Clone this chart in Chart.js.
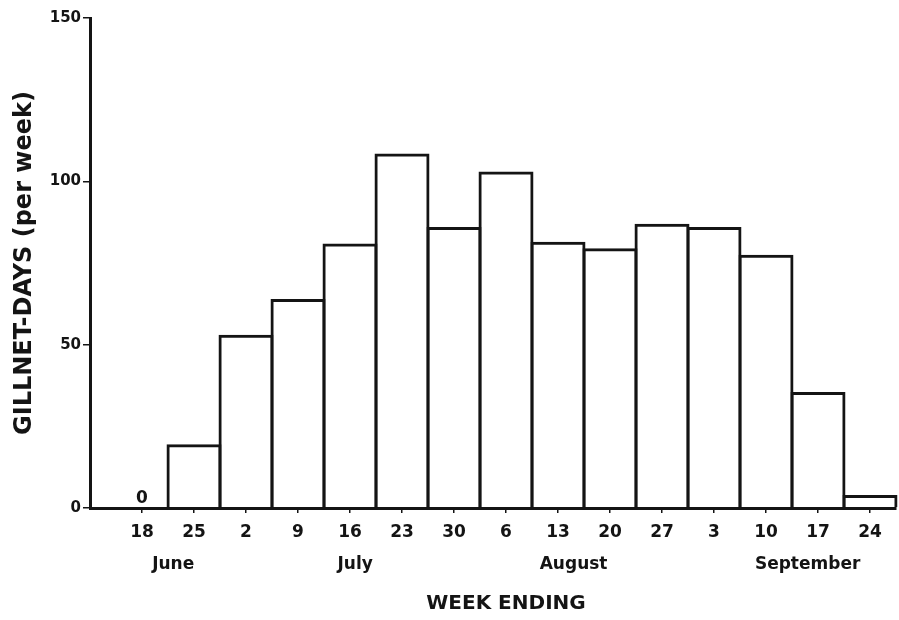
<!DOCTYPE html>
<html>
<head>
<meta charset="utf-8">
<title>Gillnet-days per week</title>
<script src="https://cdn.jsdelivr.net/npm/chart.js@4.4.1/dist/chart.umd.min.js"></script>
<style>
  html, body { margin: 0; padding: 0; background: #ffffff; }
  #wrap { width: 899px; height: 620px; }
</style>
</head>
<body>
<div id="wrap"><canvas id="chart" width="899" height="620"></canvas></div>
<script>
// Week-ending dates (day of month), June through September
const weekLabels = ['18', '25', '2', '9', '16', '23', '30', '6', '13', '20', '27', '3', '10', '17', '24'];
// Gillnet-days fished in each week
const gillnetDays = [0, 19.5, 53, 64, 81, 108.5, 86, 103, 81.5, 79.5, 87, 86, 77.5, 35.5, 4];
// Value-axis tick marks
const yTickValues = [0, 50, 100, 150];
// Month names and where they sit along the week axis (in week positions)
const months = ['June', 'July', 'August', 'September'];
const monthCentres = [0.6, 4.1, 8.3, 12.8];

const INK = '#141414';
const FAMILY = '"DejaVu Sans", "Liberation Sans", sans-serif';

// Month names, the x-axis caption and labels over empty weeks
const weekAnnotations = {
  id: 'weekAnnotations',
  afterDraw(chart) {
    const { ctx } = chart;
    const x = chart.scales.x;
    const y = chart.scales.y;
    ctx.save();
    ctx.fillStyle = INK;
    ctx.textAlign = 'center';
    ctx.textBaseline = 'alphabetic';

    ctx.font = 'bold 17px ' + FAMILY;
    months.forEach((m, i) => {
      ctx.fillText(m, x.getPixelForValue(monthCentres[i]), x.top + 61);
    });

    gillnetDays.forEach((v, i) => {
      if (v === 0) {
        ctx.fillText(String(v), x.getPixelForValue(i), y.getPixelForValue(v) - 5);
      }
    });

    ctx.font = 'bold 20px ' + FAMILY;
    const mid = (x.getPixelForValue(0) + x.getPixelForValue(weekLabels.length - 1)) / 2;
    ctx.fillText('WEEK ENDING', mid, x.top + 101);
    ctx.restore();
  }
};

new Chart(document.getElementById('chart'), {
  type: 'bar',
  data: {
    datasets: [{
      data: gillnetDays.map((v, i) => ({ x: i, y: v })),
      backgroundColor: 'rgba(255,255,255,0)',
      borderColor: INK,
      borderWidth: 3,
      borderSkipped: 'start',
      barPercentage: 55 / 52,
      categoryPercentage: 1,
      clip: false
    }]
  },
  options: {
    responsive: false,
    animation: false,
    layout: { padding: { left: 0, right: 3, top: 18, bottom: 0 } },
    plugins: {
      legend: { display: false },
      tooltip: { enabled: false }
    },
    scales: {
      x: {
        type: 'linear',
        min: -1,
        max: 14.5,
        offset: false,
        afterBuildTicks: (scale) => {
          scale.ticks = weekLabels.map((_, i) => ({ value: i }));
        },
        afterFit: (scale) => { scale.height = 112; },
        grid: {
          display: true,
          drawOnChartArea: false,
          drawTicks: true,
          tickLength: 5,
          color: INK,
          lineWidth: 1.5,
          offset: false
        },
        border: { display: true, color: INK, width: 3 },
        ticks: {
          autoSkip: false,
          maxRotation: 0,
          padding: 9,
          color: INK,
          font: { family: FAMILY, size: 17, weight: 'bold' },
          callback: (value) => weekLabels[value] ?? ''
        }
      },
      y: {
        min: 0,
        max: 150,
        afterBuildTicks: (scale) => {
          scale.ticks = yTickValues.map(v => ({ value: v }));
        },
        afterFit: (scale) => { scale.width = 90; },
        grid: {
          display: true,
          drawOnChartArea: false,
          drawTicks: true,
          tickLength: 7,
          color: INK,
          lineWidth: 1.5
        },
        border: { display: true, color: INK, width: 3 },
        ticks: {
          padding: 2,
          color: INK,
          font: { family: FAMILY, size: 15, weight: 'bold' }
        },
        title: {
          display: true,
          text: 'GILLNET-DAYS (per week)',
          color: INK,
          font: { family: FAMILY, size: 24, weight: 'bold' },
          padding: { top: 10, bottom: 0 }
        }
      }
    }
  },
  plugins: [weekAnnotations]
});
</script>
</body>
</html>
